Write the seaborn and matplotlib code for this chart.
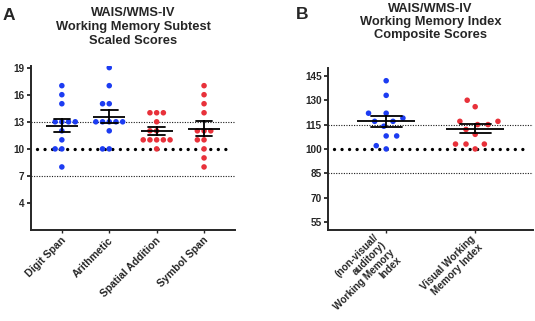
import numpy as np
import pandas as pd
import matplotlib
matplotlib.use("Agg")
import matplotlib.pyplot as plt
from matplotlib.transforms import ScaledTranslation
import seaborn as sns

# Panel A: WAIS/WMS-IV working memory subtest scaled scores
subtests = ["Digit Span", "Arithmetic", "Spatial Addition", "Symbol Span"]
digit_span = [17, 16, 15, 13, 13, 13, 13, 12, 11, 10, 10, 8]
arithmetic = [19, 17, 15, 15, 13, 13, 13, 13, 13, 12, 10, 10]
spatial_addition = [14, 14, 14, 13, 12, 12, 11, 11, 11, 11, 11, 10]
symbol_span = [17, 16, 15, 14, 12, 12, 12, 11, 11, 10, 9, 8]
yticks_a = [4, 7, 10, 13, 16, 19]

# Panel B: working memory index composite scores
indices = ["(non-visual/\nauditory)\nWorking Memory\nIndex",
           "Visual Working\nMemory Index"]
auditory_wmi = [142, 133, 122, 122, 119, 117, 117, 114, 108, 108, 102, 100]
visual_wmi = [130, 126, 117, 117, 115, 115, 112, 109, 103, 103, 103, 100]
yticks_b = [55, 70, 85, 100, 115, 130, 145]

BLUE = "#1c3cf2"
RED = "#e8313a"

sns.set_style("ticks")
plt.rcParams["font.family"] = ["Liberation Sans", "DejaVu Sans"]
plt.rcParams["font.weight"] = "bold"

fig = plt.figure(figsize=(5.35, 3.21), dpi=100)


def long_form(names, series):
    return pd.DataFrame({
        "test": np.repeat(names, [len(s) for s in series]),
        "score": np.concatenate(series),
    })


def draw_panel(ax, df, order, colors, yticks, ylim, norm_mean, norm_sd,
               mean_width, dot_gap, label_size, label_spacing):
    # population mean (thick dots) and +/- 1 SD (fine dots)
    ax.axhline(norm_mean, xmin=0.03, xmax=0.975, color="black", lw=2.4,
               linestyle=(0, (0.01, 2.25)), dash_capstyle="round", zorder=0.5)
    for ref in (norm_mean - norm_sd, norm_mean + norm_sd):
        ax.axhline(ref, color="#1a1a1a", lw=0.8, linestyle=(0, (1, 1.3)), zorder=0.5)

    # invisible edge width sets the spacing between neighbouring dots
    sns.swarmplot(data=df, x="test", y="score", order=order, hue="test",
                  hue_order=order, palette=colors, size=4.0, linewidth=dot_gap,
                  edgecolor="none", legend=False, ax=ax, zorder=1)
    sns.pointplot(data=df, x="test", y="score", order=order, errorbar="se",
                  color="black", marker="_", markersize=mean_width,
                  markeredgewidth=1.3, linestyle="none", capsize=0.35,
                  err_kws={"linewidth": 1.3}, ax=ax, zorder=3)

    ax.set_xlim(-0.65, len(order) - 1 + 0.65)
    ax.set_ylim(*ylim)
    ax.set_yticks(yticks)
    ax.set_xlabel("")
    ax.set_ylabel("")
    sns.despine(ax=ax)
    for side in ("left", "bottom"):
        ax.spines[side].set_linewidth(1.4)
    ax.tick_params(axis="y", length=3.2, width=1.3, pad=1.5, labelsize=7.2)
    ax.tick_params(axis="x", length=2.2, width=1.0, pad=4)
    for lab in ax.get_yticklabels():
        lab.set_fontweight("bold")
    ax.set_xticks(range(len(order)))
    labels = ax.set_xticklabels(order, rotation=45, ha="right", va="center",
                                rotation_mode="anchor", fontweight="bold",
                                multialignment="right", fontsize=label_size,
                                linespacing=label_spacing)
    # keep the first line of each rotated label just under the axis
    step = label_spacing * 0.73 * label_size * fig.dpi / 72
    for lab in labels:
        n = lab.get_text().count("\n") + 1
        drop = (n - 1) / 2 * step * 0.7071
        lab.set_transform(lab.get_transform() + ScaledTranslation(
            2.5 / fig.dpi, -drop / fig.dpi, fig.dpi_scale_trans))


ax_a = fig.add_axes([0.058, 0.283, 0.381, 0.512])
ax_b = fig.add_axes([0.6137, 0.283, 0.3826, 0.506])

df_a = long_form(subtests, [digit_span, arithmetic, spatial_addition, symbol_span])
df_b = long_form(indices, [auditory_wmi, visual_wmi])

draw_panel(ax_a, df_a, subtests, [BLUE, BLUE, RED, RED], yticks_a, (1, 19.2),
           10, 3, 23, 0.6, 7.6, 1.2)
draw_panel(ax_b, df_b, indices, [BLUE, RED], yticks_b, (50, 150),
           100, 15, 42, 3.2, 7.2, 1.1)

fig.text(0.249, 0.978, "WAIS/WMS-IV\nWorking Memory Subtest\nScaled Scores",
         ha="center", va="top", fontsize=9.3, fontweight="bold", linespacing=1.2)
fig.text(0.805, 0.99, "WAIS/WMS-IV\nWorking Memory Index\nComposite Scores",
         ha="center", va="top", fontsize=9.3, fontweight="bold", linespacing=1.12)
fig.text(0.004, 0.953, "A", fontsize=12.5, fontweight="bold", va="center")
fig.text(0.553, 0.956, "B", fontsize=12.5, fontweight="bold", va="center")

fig.savefig("out.png", dpi=100)
